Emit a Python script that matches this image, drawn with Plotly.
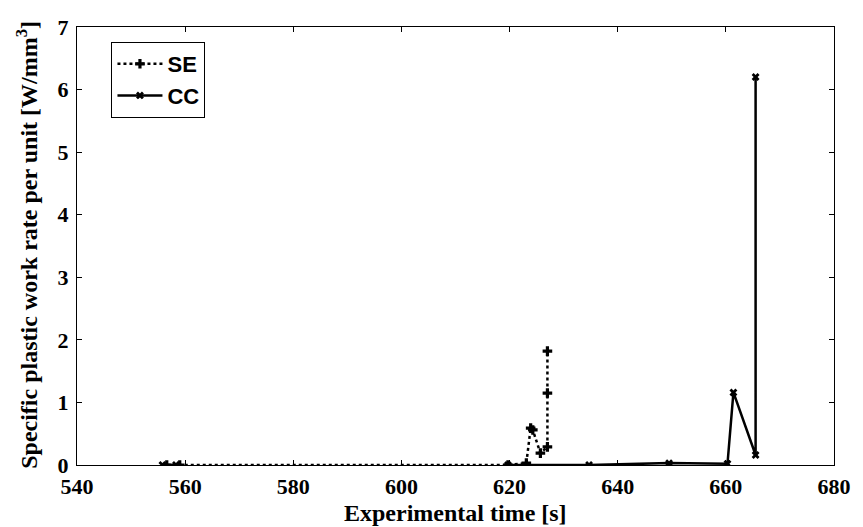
import plotly.graph_objects as go

se_t = [556.6, 559.0, 619.7, 623.1, 623.9, 624.3, 625.7, 627.0, 627.0, 627.0]
se_v = [0.0, 0.0, 0.0, 0.03, 0.59, 0.56, 0.19, 0.29, 1.15, 1.82]

cc_t = [555.8, 558.3, None, 619.7, 634.7, 649.5, 660.3, 661.4, 665.5, 665.5]
cc_v = [0.0, 0.0, None, 0.0, 0.0, 0.03, 0.02, 1.16, 0.16, 6.2]

x_ticks = [540, 560, 580, 600, 620, 640, 660, 680]
y_ticks = [0, 1, 2, 3, 4, 5, 6, 7]

L, R, T, B = 77, 17, 27, 62
W, H = 863, 527
pw, ph = W - L - R, H - T - B

fig = go.Figure()
fig.add_trace(go.Scatter(
    x=se_t, y=se_v, name="SE", mode="lines+markers",
    line=dict(color="black", width=2.5, dash="dot"),
    marker=dict(symbol="cross", size=8, color="black"),
))
fig.add_trace(go.Scatter(
    x=cc_t, y=cc_v, name="CC", mode="lines+markers", connectgaps=False,
    line=dict(color="black", width=2.5),
    marker=dict(symbol="x", size=7, color="black"),
))

tick_font = dict(family="Liberation Serif", size=22, color="black")
title_font = dict(family="Liberation Serif", size=24, color="black")
fig.update_layout(
    width=W, height=H,
    margin=dict(l=L, r=R, t=T, b=B),
    paper_bgcolor="white", plot_bgcolor="white",
    showlegend=True,
    legend=dict(
        x=(112 - L) / pw, y=1 - (42 - T) / ph, xanchor="left", yanchor="top",
        bordercolor="black", borderwidth=1, bgcolor="white",
        font=dict(family="Liberation Sans", size=22, color="black", weight="bold"),
        itemwidth=45, tracegroupgap=0,
    ),
    xaxis=dict(
        range=[540, 680], tickvals=x_ticks, ticktext=[f"<b>{v}</b>" for v in x_ticks],
        showgrid=False, zeroline=False, showline=True, linecolor="black", linewidth=1,
        mirror="ticks", ticks="inside", ticklen=5, tickcolor="black",
        tickfont=tick_font, ticklabelstandoff=2,
    ),
    yaxis=dict(
        range=[0, 7], tickvals=y_ticks, ticktext=[f"<b>{v}</b>" for v in y_ticks],
        showgrid=False, zeroline=False, showline=True, linecolor="black", linewidth=1,
        mirror="ticks", ticks="inside", ticklen=5, tickcolor="black",
        tickfont=tick_font, ticklabelstandoff=3,
    ),
    annotations=[
        dict(text="<b>Experimental time [s]</b>", xref="paper", yref="paper",
             x=0.5, y=-(513 - (T + ph)) / ph, xanchor="center", yanchor="middle",
             showarrow=False, font=title_font),
        dict(text="<b>Specific plastic work rate per unit [W/mm<sup>3</sup>]</b>",
             xref="paper", yref="paper", x=(26 - L) / pw, y=1 - (245 - T) / ph,
             xanchor="center", yanchor="middle", textangle=-90,
             showarrow=False, font=title_font),
    ],
)
fig.write_html("out.html")
